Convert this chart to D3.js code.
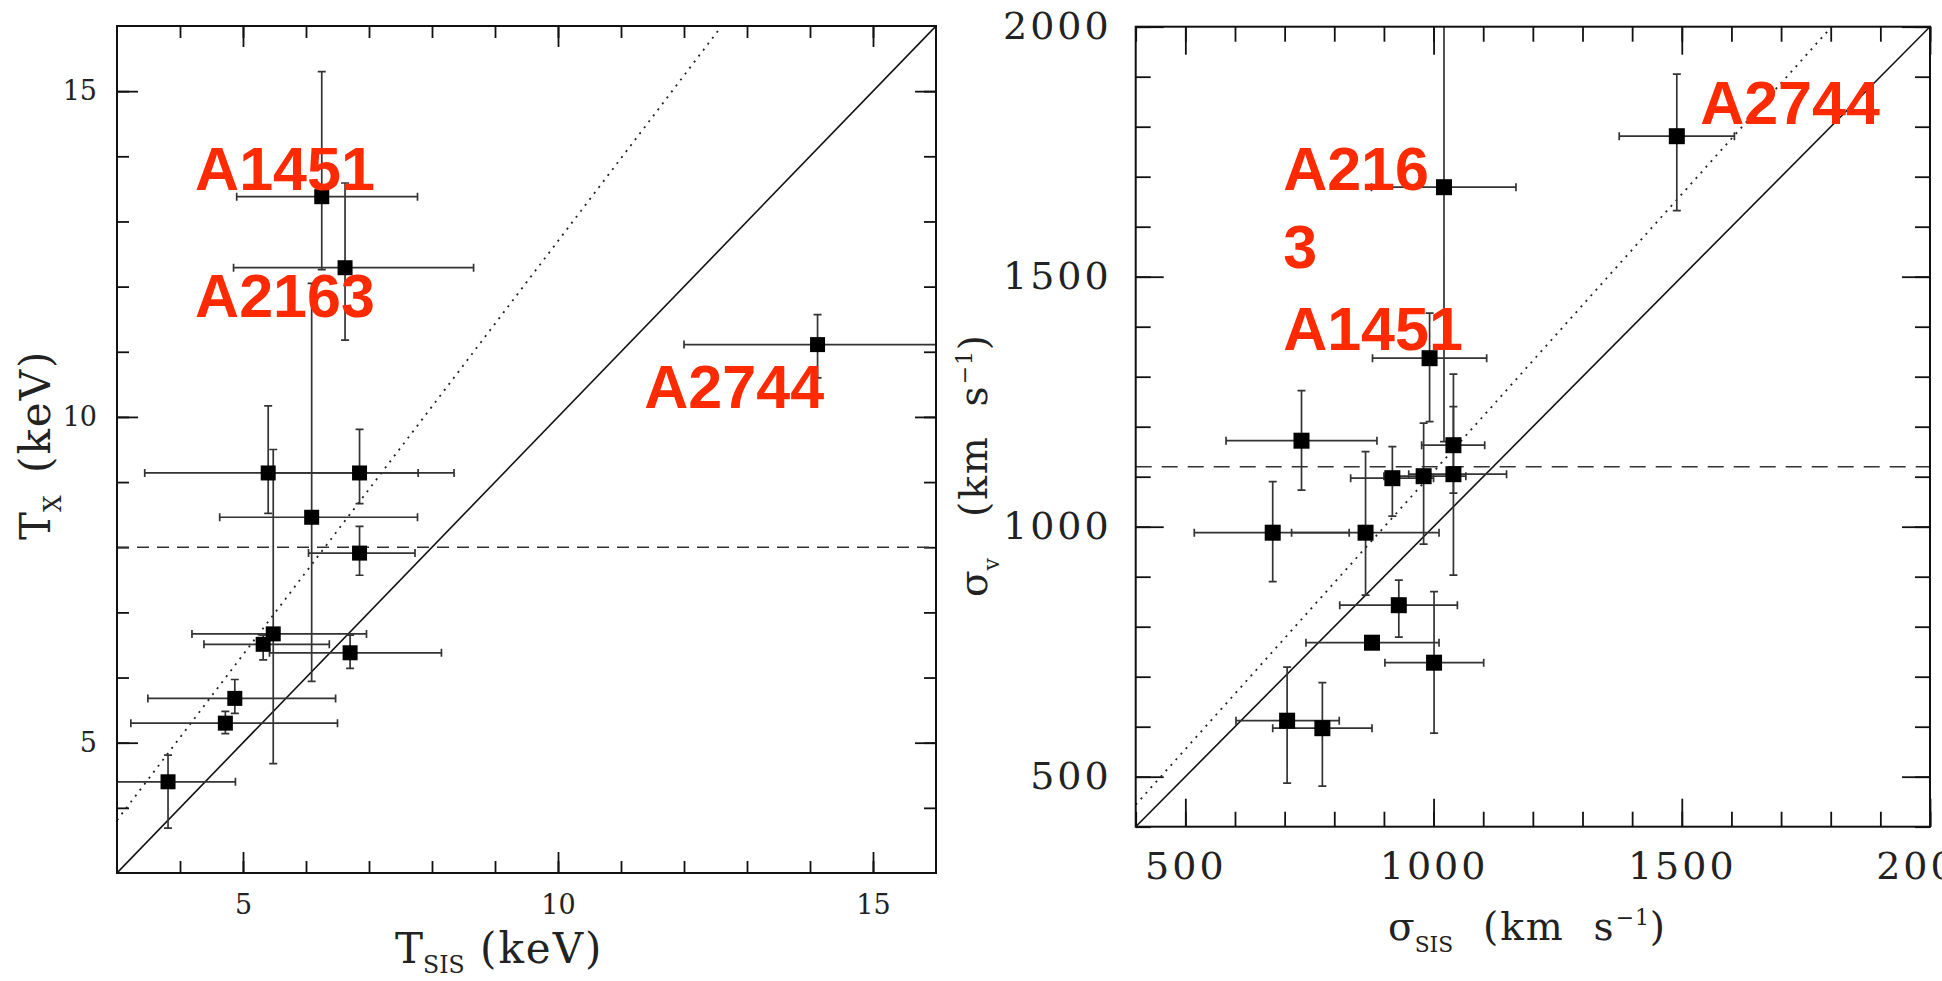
<!DOCTYPE html>
<html><head><meta charset="utf-8">
<script src="https://cdn.jsdelivr.net/npm/d3@7"></script>
<style>body{margin:0;background:#fff;overflow:hidden} svg{display:block}</style>
</head><body>
<svg id="c" width="1942" height="981"></svg>
<script>
// ---------------- DATA ----------------
// Left panel: T_SIS vs T_X (keV)
const leftTsis   = [6.25, 6.62, 5.40, 6.85, 6.09, 6.85, 5.32, 5.48, 6.70, 4.87, 4.72, 3.81, 14.12];
const leftTsisLo = [4.90, 4.85, 3.44, 5.40, 4.63, 6.04, 4.38, 4.19, 5.42, 3.49, 3.22, 2.90, 12.00];
const leftTsisHi = [7.77, 8.66, 7.78, 8.35, 7.77, 7.73, 6.37, 6.96, 8.15, 6.47, 6.50, 4.88, 16.50];
const leftTx     = [13.38, 12.29, 9.14, 9.14, 8.46, 7.91, 6.51, 6.67, 6.38, 5.68, 5.30, 4.40, 11.11];
const leftTxLo   = [12.26, 11.18, 8.52, 8.67, 5.94, 7.57, 6.27, 4.68, 6.14, 5.45, 5.14, 3.69, 10.60];
const leftTxHi   = [15.30, 13.59, 10.17, 9.81, 12.05, 8.32, 6.65, 9.50, 6.65, 5.97, 5.48, 4.81, 11.57];
const leftDashedTx = 8.0;      // horizontal dashed line
const leftDottedSlope = 1.27;  // dotted relation T_X = 1.27 T_SIS
const leftTickMajor = [5, 10, 15];
const leftTickLabels = ["5", "10", "15"];
const leftTickMinor = d3.range(4, 16);

// Right panel: sigma_SIS vs sigma_v (km/s)
const rightSsis   = [1490, 1021, 992, 734, 1040, 917, 980, 1040, 676, 863, 930, 876, 1001, 705, 776];
const rightSsisLo = [1374, 875, 877, 582, 976, 833, 900, 950, 518, 714, 811, 743, 902, 602, 676];
const rightSsisHi = [1606, 1166, 1107, 886, 1103, 1000, 1065, 1147, 830, 1011, 1048, 1011, 1101, 810, 876];
const rightSv     = [1781, 1679, 1337, 1172, 1163, 1097, 1101, 1105, 988, 988, 843, 768, 728, 612, 597];
const rightSvLo   = [1632, 1170, 1210, 1073, 1067, 1021, 965, 903, 890, 863, 779, 755, 587, 487, 481];
const rightSvHi   = [1905, 2100, 1427, 1272, 1305, 1160, 1207, 1240, 1090, 1150, 893, 781, 870, 719, 688];
const rightDashedSv = 1120;
const rightDottedSlope = 1.11;
const rightTickMajor = [500, 1000, 1500, 2000];
const rightTickLabels = ["500", "1000", "1500", "2000"];
const rightTickMinor = d3.range(400, 2001, 100);

// Annotations (cluster names)
const leftNotes  = ["A1451", "A2163", "A2744"];
const rightNotes = ["A216", "3", "A1451", "A2744"];

// ---------------- DRAW ----------------
const svg = d3.select("#c");
const SERIF = "'DejaVu Serif', serif";
const RED = "#ff2a00";

function panel(id, x, y, opt) {
  const g = svg.append("g");
  const [x0, x1] = x.range(), [y1, y0] = y.range();
  g.append("clipPath").attr("id", id).append("rect")
    .attr("x", x0).attr("y", y0).attr("width", x1 - x0).attr("height", y1 - y0);

  // axes: ticks inward on all four sides
  const fmt = (d) => opt.labels[opt.major.indexOf(d)];
  const styleAx = (sel) => {
    sel.select(".domain").remove();
    sel.selectAll("line").attr("stroke", "#111").attr("stroke-width", 1.8);
    sel.selectAll("text").attr("font-family", SERIF).attr("font-size", opt.fs).attr("fill", "#222")
      .attr("letter-spacing", opt.ls);
  };
  const add = (axis, tx, ty) => g.append("g").attr("transform", `translate(${tx},${ty})`).call(axis).call(styleAx);
  add(d3.axisBottom(x).tickValues(opt.major).tickFormat(fmt).tickSize(-opt.maj).tickPadding(opt.padX), 0, y1);
  add(d3.axisBottom(x).tickValues(opt.minor).tickFormat("").tickSize(-opt.min), 0, y1);
  add(d3.axisTop(x).tickValues(opt.major).tickFormat("").tickSize(-opt.maj), 0, y0);
  add(d3.axisTop(x).tickValues(opt.minor).tickFormat("").tickSize(-opt.min), 0, y0);
  add(d3.axisLeft(y).tickValues(opt.major).tickFormat(fmt).tickSize(-opt.maj).tickPadding(opt.padY), x0, 0);
  add(d3.axisLeft(y).tickValues(opt.minor).tickFormat("").tickSize(-opt.min), x0, 0);
  add(d3.axisRight(y).tickValues(opt.major).tickFormat("").tickSize(-opt.maj), x1, 0);
  add(d3.axisRight(y).tickValues(opt.minor).tickFormat("").tickSize(-opt.min), x1, 0);

  const pg = g.append("g").attr("clip-path", `url(#${id})`);
  const [dx0, dx1] = x.domain();
  const line = d3.line().x(d => x(d[0])).y(d => y(d[1]));
  // y = x
  pg.append("path").attr("d", line([[dx0, dx0], [dx1, dx1]]))
    .attr("stroke", "#111").attr("stroke-width", 1.6).attr("fill", "none");
  // dotted
  pg.append("path").attr("d", line([[dx0, dx0 * opt.slope], [dx1, dx1 * opt.slope]]))
    .attr("stroke", "#222").attr("stroke-width", 1.8).attr("fill", "none").attr("stroke-dasharray", "2,5.5");
  // dashed
  pg.append("path").attr("d", line([[dx0, opt.dashed], [dx1, opt.dashed]]))
    .attr("stroke", "#333").attr("stroke-width", 1.6).attr("fill", "none").attr("stroke-dasharray", opt.dash);

  // error bars
  const c = 4;
  const eb = pg.append("g").attr("stroke", "#333").attr("stroke-width", 1.7).attr("fill", "none");
  opt.xs.forEach((xv, i) => {
    const px = x(xv), py = y(opt.ys[i]);
    const xl = x(opt.xlo[i]), xh = x(opt.xhi[i]), yl = y(opt.ylo[i]), yh = y(opt.yhi[i]);
    eb.append("path").attr("d",
      `M${xl},${py}H${xh}M${xl},${py - c}V${py + c}M${xh},${py - c}V${py + c}` +
      `M${px},${yl}V${yh}M${px - c},${yl}H${px + c}M${px - c},${yh}H${px + c}`);
  });
  // squares
  pg.append("g").selectAll("rect").data(opt.xs).join("rect")
    .attr("x", (d) => x(d) - opt.sq / 2).attr("y", (d, i) => y(opt.ys[i]) - opt.sq / 2)
    .attr("width", opt.sq).attr("height", opt.sq).attr("fill", "#000");

  // frame
  g.append("rect").attr("x", x0).attr("y", y0).attr("width", x1 - x0).attr("height", y1 - y0)
    .attr("fill", "none").attr("stroke", "#111").attr("stroke-width", 2);
  return g;
}

// Left panel
const xL = d3.scaleLinear([3, 16], [117, 936]);
const yL = d3.scaleLinear([3, 16], [873, 26]);
panel("clipL", xL, yL, {
  major: leftTickMajor, labels: leftTickLabels, minor: leftTickMinor,
  maj: 21, min: 12, fs: 27, ls: 0, padX: 22, padY: 20,
  slope: leftDottedSlope, dashed: leftDashedTx, dash: "12,8",
  xs: leftTsis, xlo: leftTsisLo, xhi: leftTsisHi, ys: leftTx, ylo: leftTxLo, yhi: leftTxHi, sq: 15
});

// Right panel
const xR = d3.scaleLinear([400, 2000], [1135.7, 1930]);
const yR = d3.scaleLinear([400, 2000], [826.7, 26.7]);
panel("clipR", xR, yR, {
  major: rightTickMajor, labels: rightTickLabels, minor: rightTickMinor,
  maj: 28, min: 15, fs: 38, ls: 3, padX: 25, padY: 24,
  slope: rightDottedSlope, dashed: rightDashedSv, dash: "16,10",
  xs: rightSsis, xlo: rightSsisLo, xhi: rightSsisHi, ys: rightSv, ylo: rightSvLo, yhi: rightSvHi, sq: 16
});

// Axis titles
function title(x, y, rot, fs, main, sub, rest, restOffset, subShift, supText) {
  const t = svg.append("text").attr("transform", `translate(${x},${y}) rotate(${rot})`)
    .attr("font-family", SERIF).attr("font-size", fs).attr("fill", "#222");
  t.append("tspan").text(main);
  t.append("tspan").attr("font-size", fs * 0.56).attr("dy", subShift).text(sub);
  t.append("tspan").attr("x", restOffset).attr("dy", -subShift).attr("letter-spacing", 2).text(rest);
  if (supText) {
    t.append("tspan").attr("font-size", fs * 0.56).attr("dy", -fs * 0.38).attr("letter-spacing", 1).text(supText);
    t.append("tspan").attr("dy", fs * 0.38).text(")");
  }
  return t;
}
title(395, 963, 0, 42, "T", "SIS", "(keV)", 85, 10);
title(50, 540, -90, 42, "T", "X", "(keV)", 67, 11);
title(1388, 940, 0, 39, "σ", "SIS", "(km\u00A0\u00A0s", 95, 12, "−1");
title(987, 597, -90, 39, "σ", "v", "(km\u00A0\u00A0s", 80, 12, "−1");

// Red annotations
const note = (txt, x, y) => svg.append("text").attr("x", x).attr("y", y)
  .attr("font-family", "'Liberation Sans', Arial, sans-serif").attr("font-weight", "bold")
  .attr("font-size", 61).attr("fill", RED).text(txt);
note(leftNotes[0], xL(4.24), yL(13.48));
note(leftNotes[1], xL(4.24), yL(11.54));
note(leftNotes[2], xL(11.37), yL(10.13));
note(rightNotes[0], xR(697), yR(1673));
note(rightNotes[1], xR(697), yR(1517));
note(rightNotes[2], xR(697), yR(1353));
note(rightNotes[3], xR(1537), yR(1806));
</script>
</body></html>
